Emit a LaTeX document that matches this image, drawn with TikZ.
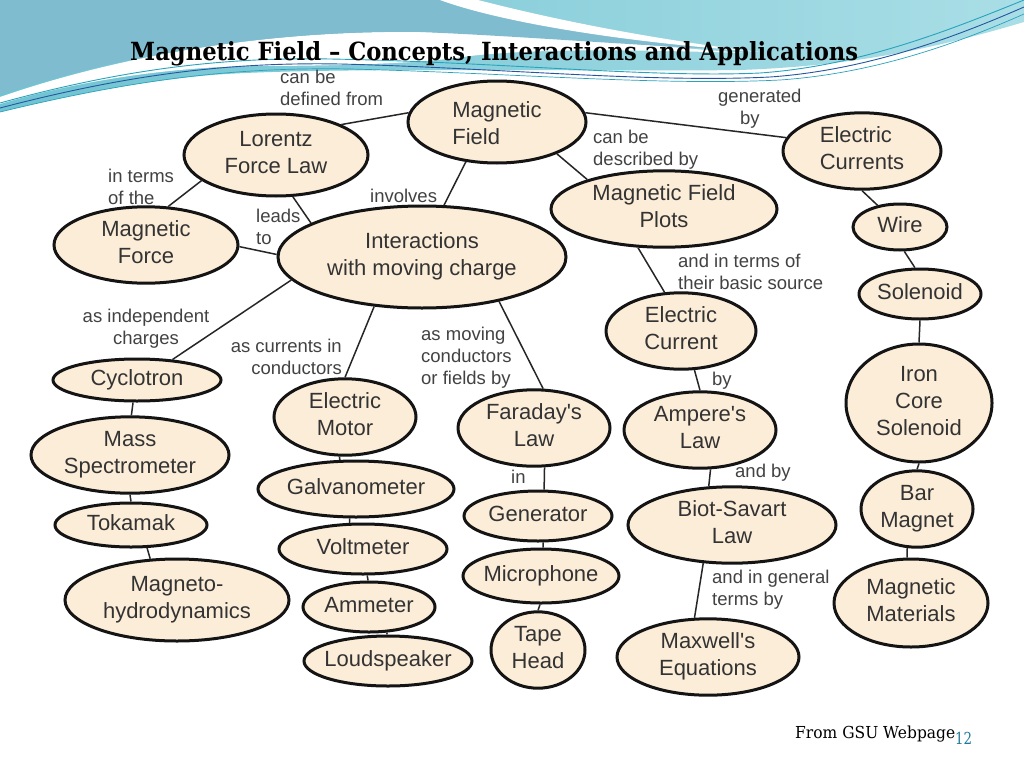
\documentclass[tikz,border=0pt]{standalone}
\usepackage{fontspec}
\setmainfont{Liberation Sans}[Ligatures=TeXOff]
\newfontfamily\titlefont{DejaVu Serif}
\usetikzlibrary{shapes.geometric}
\definecolor{nodefill}{RGB}{252,237,216}
\definecolor{bluedark}{RGB}{128,188,208}
\definecolor{cyanleft}{RGB}{112,195,210}
\definecolor{cyanright}{RGB}{170,222,230}
\definecolor{lineteal}{RGB}{40,163,190}
\definecolor{lineblue}{RGB}{36,87,160}
\definecolor{pagenum}{RGB}{31,122,154}
\newcommand\ctxt[1]{\makebox[0pt]{\begin{tabular}{@{}c@{}}#1\end{tabular}}}
\newcommand\ltxt[1]{\makebox[0pt]{\begin{tabular}{@{}l@{}}#1\end{tabular}}}
\newcommand\labt[2][l]{\begin{tabular}[t]{@{}#1@{}}#2\end{tabular}}
\tikzset{
  concept/.style={ellipse, draw=black!92, line width=3pt, fill=nodefill,
    inner sep=0pt, text=black!80, font=\fontsize{22}{27}\selectfont},
  lab/.style={inner sep=0pt, text=black!74, font=\fontsize{18.5}{22}\selectfont, anchor=base west},
  link/.style={draw=black!85, line width=1.5pt},
}
\begin{document}
\begin{tikzpicture}[x=1pt,y=-1pt]
\useasboundingbox (0,0) rectangle (1024,768);
\fill[white] (0,0) rectangle (1024,768);
% banner
\shade[left color=cyanleft, right color=cyanright] (0,0) -- (1024,0) -- (1024,22)
  .. controls (930,50) and (850,66) .. (740,70)
  .. controls (600,72) and (300,66) .. (200,76)
  .. controls (120,84) and (50,100) .. (0,112) -- cycle;
\fill[white] (0,97) .. controls (130,52) and (280,30) .. (420,32)
  .. controls (540,34) and (650,46) .. (745,53)
  .. controls (640,50) and (540,48) .. (470,56)
  .. controls (420,64) and (330,66) .. (250,66)
  .. controls (150,68) and (60,86) .. (0,104) -- cycle;
\fill[bluedark] (0,0) -- (440,0) .. controls (490,18) and (600,40) .. (745,50)
  .. controls (640,46) and (520,36) .. (420,32)
  .. controls (280,30) and (130,52) .. (0,94) -- cycle;
\fill[white] (440,0) -- (478,0) .. controls (540,16) and (640,38) .. (760,52)
  .. controls (620,42) and (500,22) .. (440,0) -- cycle;
\draw[lineteal, line width=0.9pt] (0,103) .. controls (120,70) and (220,57) .. (330,59)
  .. controls (500,62) and (650,78) .. (760,73) .. controls (860,66) and (950,30) .. (1024,0);
\draw[lineblue, line width=0.9pt] (0,108) .. controls (130,74) and (230,62) .. (340,64)
  .. controls (500,68) and (650,83) .. (770,77) .. controls (870,70) and (960,35) .. (1024,7);
\draw[lineteal, line width=0.7pt] (0,112) .. controls (140,78) and (240,67) .. (350,69)
  .. controls (510,73) and (660,86) .. (780,80) .. controls (880,73) and (965,40) .. (1024,14);
% title and footer
\node[inner sep=0pt, anchor=base west] (title) at (130,60)
  {\resizebox{728pt}{\height}{\titlefont\bfseries\fontsize{25}{30}\selectfont Magnetic Field – Concepts, Interactions and Applications}};
\node[inner sep=0pt, anchor=base west] (src) at (795,738)
  {\resizebox{160pt}{\height}{\titlefont\fontsize{16.5}{20}\selectfont From GSU Webpage}};
\node[inner sep=0pt, anchor=base west, text=pagenum] (pg) at (955,744)
  {\resizebox{17pt}{\height}{\titlefont\fontsize{16.5}{20}\selectfont 12}};
% concepts
\node[concept, minimum width=178pt, minimum height=82pt] (mf) at (497,122) {\raisebox{-4pt}[\height][\depth]{\ltxt{Magnetic\\Field}}};
\node[concept, minimum width=184pt, minimum height=82pt] (lor) at (276,155) {\ctxt{Lorentz\\Force Law}};
\node[concept, minimum width=184pt, minimum height=72pt] (mforce) at (146,245) {\ctxt{Magnetic\\Force}};
\node[concept, minimum width=288pt, minimum height=102pt] (inter) at (422,257) {\ctxt{Interactions\\with moving charge}};
\node[concept, minimum width=158pt, minimum height=74pt] (ecs) at (862,151) {\ltxt{Electric\\Currents}};
\node[concept, minimum width=226pt, minimum height=72pt] (plots) at (664,209) {\ctxt{Magnetic Field\\Plots}};
\node[concept, minimum width=94pt, minimum height=46pt] (wire) at (900,227) {\ctxt{Wire}};
\node[concept, minimum width=122pt, minimum height=50pt] (sol) at (920,294) {\ctxt{Solenoid}};
\node[concept, minimum width=150pt, minimum height=72pt] (ecur) at (681,331) {\ctxt{Electric\\Current}};
\node[concept, minimum width=146pt, minimum height=118pt] (iron) at (919,403) {\ctxt{Iron\\Core\\Solenoid}};
\node[concept, minimum width=112pt, minimum height=74pt] (bar) at (917,509) {\ctxt{Bar\\Magnet}};
\node[concept, minimum width=154pt, minimum height=88pt] (mmat) at (911,603) {\ltxt{Magnetic\\Materials}};
\node[concept, minimum width=168pt, minimum height=42pt] (cyc) at (137,380) {\ctxt{Cyclotron}};
\node[concept, minimum width=198pt, minimum height=72pt] (mass) at (130,455) {\ctxt{Mass\\Spectrometer}};
\node[concept, minimum width=152pt, minimum height=44pt] (tok) at (131,525) {\ctxt{Tokamak}};
\node[concept, minimum width=224pt, minimum height=82pt] (mhd) at (177,600) {\ctxt{Magneto-\\hydrodynamics}};
\node[concept, minimum width=142pt, minimum height=72pt] (motor) at (345,417) {\ctxt{Electric\\Motor}};
\node[concept, minimum width=196pt, minimum height=56pt] (galv) at (356,489) {\ctxt{Galvanometer}};
\node[concept, minimum width=168pt, minimum height=50pt] (volt) at (363,549) {\ctxt{Voltmeter}};
\node[concept, minimum width=132pt, minimum height=50pt] (amm) at (369,607) {\ctxt{Ammeter}};
\node[concept, minimum width=168pt, minimum height=50pt] (loud) at (388,661) {\ctxt{Loudspeaker}};
\node[concept, minimum width=152pt, minimum height=72pt] (far) at (534,428) {\ctxt{Faraday's\\Law}};
\node[concept, minimum width=148pt, minimum height=50pt] (gen) at (538,516) {\ctxt{Generator}};
\node[concept, minimum width=156pt, minimum height=54pt] (mic) at (541,576) {\ctxt{Microphone}};
\node[concept, minimum width=94pt, minimum height=74pt] (tape) at (538,650) {\ctxt{Tape\\Head}};
\node[concept, minimum width=152pt, minimum height=72pt] (amp) at (700,430) {\ctxt{Ampere's\\Law}};
\node[concept, minimum width=208pt, minimum height=72pt] (biot) at (732,525) {\ctxt{Biot-Savart\\Law}};
\node[concept, minimum width=182pt, minimum height=70pt] (max) at (708,657) {\ctxt{Maxwell's\\Equations}};
% connectors
\draw[link] (mf.174) -- (lor.25);
\draw[link] (mf.6) -- (ecs.170);
\draw[link] (mf.-28) -- (plots.159);
\draw[link] (mf.-128) -- (inter.67);
\draw[link] (lor.199) -- (mforce.60);
\draw[link] (lor.-68) -- (inter.163);
\draw[link] (mforce.-1) -- (inter.179);
\draw[link] (inter.-170) -- (cyc.30);
\draw[link] (inter.-134) -- (motor.90);
\draw[link] (inter.-30) -- (far.77);
\draw[link] (plots.-124) -- (ecur.113);
\draw[link] (ecs.-90) -- (wire.136);
\draw[link] (wire.-80) -- (sol.101);
\draw[link] (sol.-90) -- (iron.90);
\draw[link] (iron.-90) -- (bar.90);
\draw[link] (bar.-104) -- (mmat.95);
\draw[link] (ecur.-71) -- (amp.90);
\draw[link] (amp.-75) -- (biot.121);
\draw[link] (biot.-127) -- (max.109);
\draw[link] (cyc.-100) -- (mass.88);
\draw[link] (mass.-90) -- (tok.90);
\draw[link] (tok.-55) -- (mhd.123);
\draw[link] (motor.-98) -- (galv.119);
\draw[link] (galv.-102) -- (volt.117);
\draw[link] (volt.-81) -- (amm.92);
\draw[link] (amm.-55) -- (loud.92);
\draw[link] (far.-75) -- (gen.77);
\draw[link] (gen.-79) -- (mic.86);
\draw[link] (mic.-92) -- (tape.90);
% labels
\node[lab] (l1) at (280,83) {\labt{can be\\defined from}};
\node[lab] (l2) at (718,102) {\labt{generated\\\hspace*{22pt}by}};
\node[lab] (l3) at (593,143) {\labt{can be\\described by}};
\node[lab] (l4) at (370,202) {involves};
\node[lab] (l5) at (108,182) {\labt{in terms\\of the}};
\node[lab] (l6) at (256,222) {\labt{leads\\to}};
\node[lab, anchor=base] (l7) at (146,322) {\labt[c]{as independent\\charges}};
\node[lab, anchor=base east] (l8) at (342,352) {\labt[r]{as currents in\\conductors}};
\node[lab] (l9) at (421,340) {\labt{as moving\\conductors\\or fields by}};
\node[lab] (l10) at (678,267) {\labt{and in terms of\\their basic source}};
\node[lab] (l11) at (712,385) {by};
\node[lab] (l12) at (735,477) {and by};
\node[lab] (l13) at (712,583) {\labt{and in general\\terms by}};
\node[lab] (l14) at (511,483) {in};
\end{tikzpicture}
\end{document}
